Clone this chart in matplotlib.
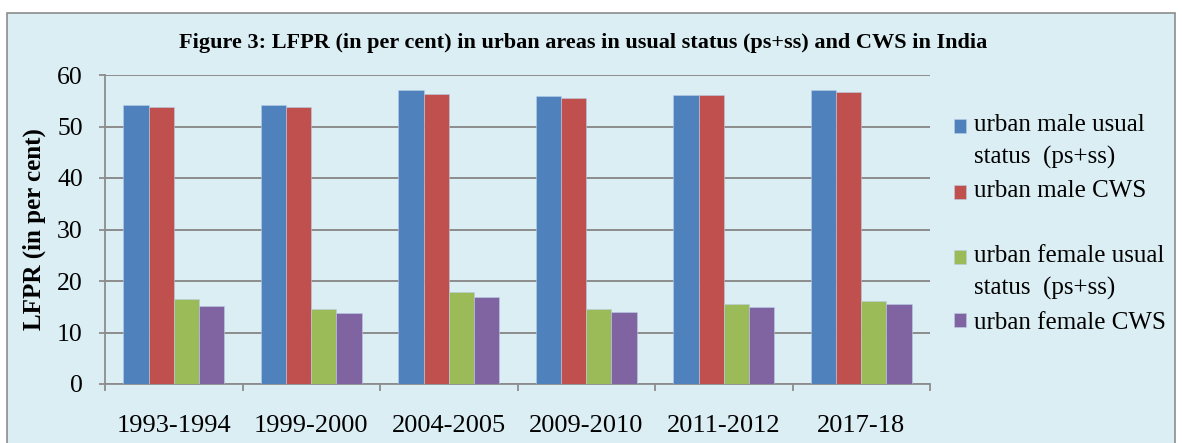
import numpy as np
import matplotlib
matplotlib.use('Agg')
import matplotlib.pyplot as plt
from matplotlib.patches import Rectangle
from matplotlib.legend_handler import HandlerPatch, update_from_first_child

# data
years = ['1993-1994', '1999-2000', '2004-2005', '2009-2010', '2011-2012', '2017-18']
male_us = [54.1, 54.1, 57.0, 55.9, 56.2, 57.0]
male_cws = [53.8, 53.8, 56.4, 55.5, 56.2, 56.7]
female_us = [16.6, 14.6, 17.8, 14.6, 15.5, 16.1]
female_cws = [15.1, 13.7, 16.9, 14.0, 14.9, 15.5]
# trailing newline keeps the extra gap Excel left under "urban male CWS"
series_labels = ['urban male usual\nstatus  (ps+ss)', 'urban male CWS\n',
                 'urban female usual\nstatus  (ps+ss)', 'urban female CWS']
colors = ['#4F81BD', '#C0504D', '#9BBB59', '#8064A2']

plt.rcParams['font.family'] = ['Liberation Serif', 'DejaVu Serif']


class TopHandler(HandlerPatch):
    """legend square next to the first text line instead of centred"""
    def __init__(self, shift, **kw):
        super().__init__(**kw)
        self.shift = shift

    def create_artists(self, legend, orig_handle, xdescent, ydescent,
                       width, height, fontsize, trans):
        return super().create_artists(legend, orig_handle, xdescent,
                                      ydescent - self.shift, width, height,
                                      fontsize, trans)


fig = plt.figure(figsize=(11.82, 4.43), dpi=100)
fig.patch.set_facecolor('white')
# chart area box
fig.patches.append(Rectangle((7 / 1182, -0.05), 1168 / 1182, 1.05 - 13 / 443,
                             transform=fig.transFigure, facecolor='#DBEEF4',
                             edgecolor='#8C8C8C', linewidth=1.2, zorder=-1))

ax = fig.add_axes([105 / 1182, 59 / 443, 825 / 1182, 309 / 443])
ax.set_facecolor('none')

x = np.arange(len(years))
w = 0.183
all_series = [male_us, male_cws, female_us, female_cws]
containers = []
for i, (vals, c, lab) in enumerate(zip(all_series, colors, series_labels)):
    bc = ax.bar(x + (i - 1.5) * w, vals, width=w, color=c, label=lab,
                edgecolor='#B9CDE5', linewidth=0.4, zorder=3)
    containers.append(bc)

ax.set_xlim(-0.5, len(years) - 0.5)
ax.set_ylim(0, 60)
ax.set_yticks(range(0, 61, 10))
ax.yaxis.grid(True, color='#8C8C8C', linewidth=1.4, zorder=0)
ax.set_axisbelow(True)
ax.set_xticks(x)
ax.set_xticklabels(years, fontsize=19)
ax.set_xticks(np.arange(-0.5, len(years)), minor=True)
ax.tick_params(axis='x', which='major', length=0, pad=22)
ax.tick_params(axis='x', which='minor', length=5, color='#8C8C8C', width=1.3)
ax.tick_params(axis='y', labelsize=18.5, length=4, color='#8C8C8C', width=1.3, pad=12)

for s in ['top', 'right']:
    ax.spines[s].set_visible(False)
for s in ['left', 'bottom']:
    ax.spines[s].set_color('#8C8C8C')
    ax.spines[s].set_linewidth(1.3)

ax.set_ylabel('LFPR (in per cent)', fontsize=18, fontweight='bold', va='center')
ax.yaxis.set_label_coords(-71 / 825, 0.5)
fig.text(0.493, 0.903, 'Figure 3: LFPR (in per cent) in urban areas in usual status (ps+ss) and CWS in India',
         ha='center', va='center', fontsize=16, fontweight='bold')

shift = 10.8
hmap = {bc: TopHandler(shift if '\n' in lab else 0, update_func=update_from_first_child)
        for bc, lab in zip(containers, series_labels)}
leg = ax.legend(loc='upper left', bbox_to_anchor=(954 / 1182, 1 - 114 / 443),
                bbox_transform=fig.transFigure, frameon=False, borderpad=0,
                borderaxespad=0, fontsize=18, handlelength=0.48, handleheight=0.48,
                handletextpad=0.3, labelspacing=0.47, handler_map=hmap)
for t in leg.get_texts():
    t.set_linespacing(1.54)

fig.savefig('out.png', dpi=100)
